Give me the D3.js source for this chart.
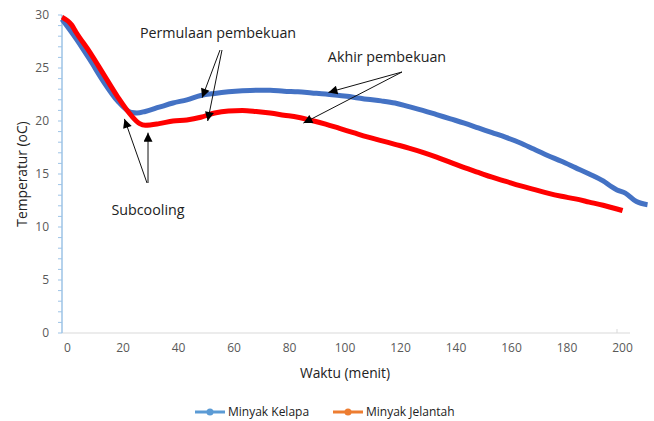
<!DOCTYPE html>
<html><head><meta charset="utf-8">
<script src="https://cdn.jsdelivr.net/npm/d3@7"></script>
<style>
html,body{margin:0;padding:0;background:#fff;}
text{font-family:"Open Sans",sans-serif;}
</style></head>
<body>
<svg id="chart" width="654" height="421"></svg>
<script>
// ---- data ----
const timeKelapa = [0,5,10,15,20,25,27,30,35,40,45,50,55,60,65,70,75,80,85,90,95,100,105,110,115,120,125,130,135,140,145,150,155,160,165,170,175,180,185,190,195,198,200,203,207,211];
const tempKelapa = [29.6,27.8,25.8,23.7,21.9,20.8,20.75,20.9,21.3,21.7,22.0,22.4,22.6,22.75,22.85,22.9,22.9,22.8,22.75,22.65,22.55,22.4,22.25,22.05,21.9,21.7,21.35,21.0,20.6,20.2,19.8,19.35,18.9,18.45,17.95,17.35,16.75,16.2,15.6,15.0,14.35,13.8,13.5,13.2,12.4,12.1];
const timeJelantah = [0,3.5,5,10,15,20,25,28,30,35,40,45,50,55,60,65,70,75,80,85,90,95,100,105,110,115,120,125,130,135,140,145,150,155,160,165,170,175,180,185,190,195,200,202];
const tempJelantah = [29.8,29.05,28.4,26.5,24.4,22.3,20.5,19.75,19.6,19.75,20.0,20.1,20.35,20.75,20.95,21.0,20.9,20.75,20.55,20.35,20.05,19.7,19.3,18.9,18.5,18.15,17.8,17.45,17.05,16.6,16.1,15.6,15.15,14.7,14.3,13.9,13.55,13.2,12.9,12.65,12.35,12.05,11.7,11.55];
const xTicks = [0,20,40,60,80,100,120,140,160,180,200];
const yTicks = [0,5,10,15,20,25,30];
const seriesNames = ["Minyak Kelapa","Minyak Jelantah"];
const annotationTexts = ["Permulaan pembekuan","Akhir pembekuan","Subcooling"];

// ---- chart ----
const svg = d3.select("#chart");
const x = d3.scaleLinear().domain([0,200]).range([62,617]);
const y = d3.scaleLinear().domain([0,30]).range([333,15]);

// x axis baseline
svg.append("line").attr("x1",62).attr("x2",630).attr("y1",y(0)).attr("y2",y(0))
  .attr("stroke","#d9d9d9").attr("stroke-width",1.2);
svg.append("line").attr("x1",x(200)).attr("x2",x(200)).attr("y1",y(0)-4).attr("y2",y(0))
  .attr("stroke","#d9d9d9");

const xAxis = d3.axisBottom(x).tickValues(xTicks).tickSize(0).tickPadding(10);
const gx = svg.append("g").attr("transform",`translate(0,${y(0)})`).call(xAxis);
gx.select(".domain").remove();
gx.selectAll("text").attr("dx",5).attr("fill","#595959").style("font-size","12px").style("font-family","'Open Sans',sans-serif");

// y axis
const yAxis = d3.axisLeft(y).tickValues(yTicks).tickSize(0).tickPadding(13);
const gy = svg.append("g").attr("transform",`translate(62,0)`).call(yAxis);
gy.select(".domain").remove();
gy.selectAll("text").attr("fill","#595959").style("font-size","12px").style("font-family","'Open Sans',sans-serif");
const minor = d3.range(0,31);
svg.append("g").selectAll("line").data(minor).join("line")
  .attr("x1",58).attr("x2",62).attr("y1",d=>y(d)).attr("y2",d=>y(d))
  .attr("stroke","#9dc3e6").attr("stroke-width",1);
svg.append("line").attr("x1",62).attr("x2",62).attr("y1",y(30)).attr("y2",y(0))
  .attr("stroke","#9dc3e6").attr("stroke-width",1.5);

// axis titles
svg.append("text").attr("x",345).attr("y",378).attr("text-anchor","middle")
  .attr("fill","#222").style("font-size","13.8px").text("Waktu (menit)");
svg.append("text").attr("transform","translate(27,174) rotate(-90)").attr("text-anchor","middle")
  .attr("fill","#222").style("font-size","13.8px").text("Temperatur (oC)");

// lines
const line = d3.line().x(d=>x(d[0])).y(d=>y(d[1])).curve(d3.curveMonotoneX);
const kel = timeKelapa.map((t,i)=>[t,tempKelapa[i]]);
const jel = timeJelantah.map((t,i)=>[t,tempJelantah[i]]);
svg.append("path").attr("d",line(kel)).attr("fill","none").attr("stroke","#4472c4").attr("stroke-width",5).attr("stroke-linejoin","round");
svg.append("path").attr("d",line(jel)).attr("fill","none").attr("stroke","#ff0000").attr("stroke-width",5).attr("stroke-linejoin","round");

// arrow marker
svg.append("defs").append("marker").attr("id","ah").attr("viewBox","0 0 10 10")
  .attr("refX",10).attr("refY",5).attr("markerWidth",11).attr("markerHeight",9)
  .attr("markerUnits","userSpaceOnUse").attr("orient","auto")
  .append("path").attr("d","M0,0 L10,5 L0,10 Z").attr("fill","#000");

function arrow(x1,y1,tx,ty){
  svg.append("line").attr("x1",x1).attr("y1",y1).attr("x2",x(tx)).attr("y2",y(ty))
    .attr("stroke","#111").attr("stroke-width",1).attr("marker-end","url(#ah)");
}
// Permulaan pembekuan
arrow(220,50,50.5,22.2);
arrow(222,50,52.5,20.0);
// Akhir pembekuan
arrow(402,72,96,22.7);
arrow(402,72,87,19.8);
// Subcooling
arrow(147,183,22.5,20.2);
arrow(148,183,31,18.9);

svg.append("text").attr("x",218).attr("y",38).attr("text-anchor","middle").attr("fill","#222")
  .style("font-size","14.3px").text(annotationTexts[0]);
svg.append("text").attr("x",387).attr("y",62).attr("text-anchor","middle").attr("fill","#222")
  .style("font-size","14.3px").text(annotationTexts[1]);
svg.append("text").attr("x",148).attr("y",215).attr("text-anchor","middle").attr("fill","#222")
  .style("font-size","14.3px").text(annotationTexts[2]);

// legend
const legend = [
  {name:seriesNames[0], color:"#5b9bd5", x0:195},
  {name:seriesNames[1], color:"#ed7d31", x0:333}
];
const lg = svg.append("g");
legend.forEach(d=>{
  lg.append("line").attr("x1",d.x0).attr("x2",d.x0+30).attr("y1",412).attr("y2",412)
    .attr("stroke",d.color).attr("stroke-width",3);
  lg.append("circle").attr("cx",d.x0+15).attr("cy",412).attr("r",3.5).attr("fill",d.color);
  lg.append("text").attr("x",d.x0+33).attr("y",416).attr("fill","#222")
    .style("font-size","12px").text(d.name);
});
</script>
</body></html>
